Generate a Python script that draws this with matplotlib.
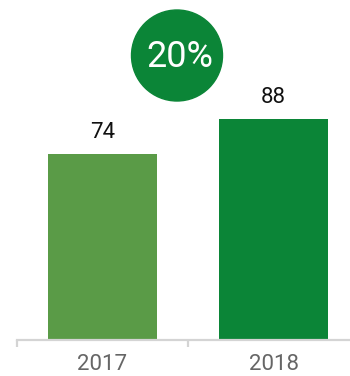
import matplotlib
matplotlib.use('Agg')
from matplotlib import pyplot
from matplotlib.patches import Ellipse

years = ['2017', '2018']
values = [74, 88]
growth_label = '20%'

bar_colors = ['#5a9b47', '#0b8537']
axis_color = '#d4d4d4'

W, H = 350, 376
fig = pyplot.figure(figsize=(W / 100, H / 100), dpi=100)

# axis starts at x=17px, baseline 36px from the bottom
ax = fig.add_axes([17 / W, 36 / H, (W - 17) / W, (H - 36) / H])
x = list(range(len(years)))
ax.bar(x, values, width=0.637, color=bar_colors)

px_per_cat = 171
ax.set_xlim(-0.5, -0.5 + (W - 17) / px_per_cat)
ax.set_ylim(0, (H - 36) / 2.513)

for xi, v in zip(x, values):
    ax.annotate(str(v), (xi, v), xytext=(0, 8), textcoords='offset points',
                ha='center', va='bottom', fontsize=16, color='#111111',
                family='Roboto')

for side in ['top', 'right', 'left']:
    ax.spines[side].set_visible(False)
ax.spines['bottom'].set_color(axis_color)
ax.spines['bottom'].set_linewidth(1.6)
ax.set_yticks([])
ax.set_xticks([-0.5, 0.5], minor=True)
ax.set_xticks(x)
ax.set_xticklabels(years, fontsize=16, color='#666666', family='Roboto')
ax.tick_params(axis='x', which='major', length=0, pad=10)
ax.tick_params(axis='x', which='minor', length=5, width=1.6, color=axis_color)

# growth badge
cx, cy, r = 177, 55.5, 45.5
badge = Ellipse((cx / W, 1 - cy / H), 2 * r / W, 2 * r / H,
                transform=fig.transFigure, color=bar_colors[1], zorder=5)
fig.add_artist(badge)
fig.text(180 / W, 1 - 57 / H, growth_label, ha='center', va='center',
         fontsize=26, color='white', family='Roboto', zorder=6)

fig.savefig('out.png', dpi=100)
